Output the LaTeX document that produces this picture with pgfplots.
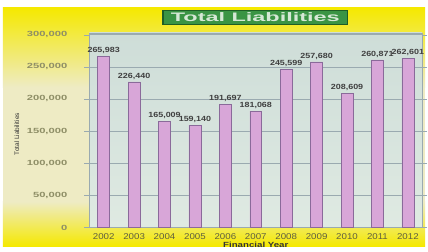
\documentclass[border=0pt]{standalone}
\usepackage{pgfplots}
\pgfplotsset{compat=1.18}
\usepackage{pgfplotstable}
\usepackage{fontspec}
\setmainfont{Liberation Sans}
\definecolor{yel}{HTML}{F5E900}
\definecolor{pale}{HTML}{EEEBC4}
\definecolor{barfill}{HTML}{D8A6D8}
\definecolor{baredge}{HTML}{8A6A9A}
\definecolor{plottop}{HTML}{CEDDD8}
\definecolor{plotbot}{HTML}{DFEAE2}
\definecolor{ticklab}{HTML}{8E8E66}
\definecolor{xlab}{HTML}{5E5E40}
\definecolor{titlegreen}{HTML}{3A9444}
\definecolor{titleedge}{HTML}{1E5E26}
\definecolor{titletext}{HTML}{D6E8D6}
\definecolor{gridc}{HTML}{9AAAB0}
\pgfplotstableread{
x val lab
0 265983 265,983
1 226440 226,440
2 165009 165,009
3 159140 159,140
4 191697 191,697
5 181068 181,068
6 245599 245,599
7 257680 257,680
8 208609 208,609
9 260871 260,871
10 262601 262,601
}\liab
\begin{document}
\begin{tikzpicture}[x=1pt,y=1pt]
\fill[white] (0,0) rectangle (428,248);
\shade[top color=pale,bottom color=yel] (3,0) rectangle (428,45);
\fill[pale] (3,44.5) rectangle (428,160.5);
\shade[top color=yel,bottom color=pale] (3,160) rectangle (428,240);
\begin{axis}[
  at={(90pt,19pt)}, anchor=south west,
  scale only axis, width=335pt, height=196pt,
  xmin=-0.47, xmax=10.47, ymin=0, ymax=303000,
  axis background/.style={top color=plottop, bottom color=plotbot},
  axis line style={gridc},
  xtick=data,
  xticklabels={2002,2003,2004,2005,2006,2007,2008,2009,2010,2011,2012},
  xticklabel style={font=\fontsize{8.5}{9}\selectfont, text=xlab, xscale=1.15, yshift=2.5pt},
  xtick style={draw=none},
  ytick={0,50000,100000,150000,200000,250000,300000},
  yticklabels={0,{50,000},{100,000},{150,000},{200,000},{250,000},{300,000}},
  yticklabel style={font=\bfseries\fontsize{7.5}{7.5}\selectfont, text=ticklab, xscale=1.5, xshift=-8pt},
  ytick style={gridc},
  tick align=outside, major tick length=5pt,
  ymajorgrids, grid style={gridc, line width=0.6pt},
  scaled y ticks=false,
  xlabel={Financial Year},
  xlabel style={font=\bfseries\fontsize{7.5}{8}\selectfont, text=black!80, xscale=1.3, yshift=4pt},
  enlarge x limits=false,
  clip=false,
]
\addplot[ybar, bar width=12pt, fill=barfill, draw=baredge, line width=0.6pt,
  nodes near coords,
  nodes near coords style={font=\bfseries\fontsize{7.5}{8}\selectfont, text=black!75, xscale=1.2, yshift=-1pt},
  point meta=explicit symbolic] table[x=x, y=val, meta=lab] {\liab};
\end{axis}
\node[rotate=90, font=\fontsize{6.5}{7}\selectfont, text=black!80] at (17,113) {Total Liabilities};
\node[fill=titlegreen, draw=titleedge, line width=1.5pt, minimum width=186pt, minimum height=14pt, inner sep=0pt] at (257,230.5)
  {\resizebox{170pt}{9pt}{\bfseries\color{titletext}Total Liabilities}};
\end{tikzpicture}
\end{document}
